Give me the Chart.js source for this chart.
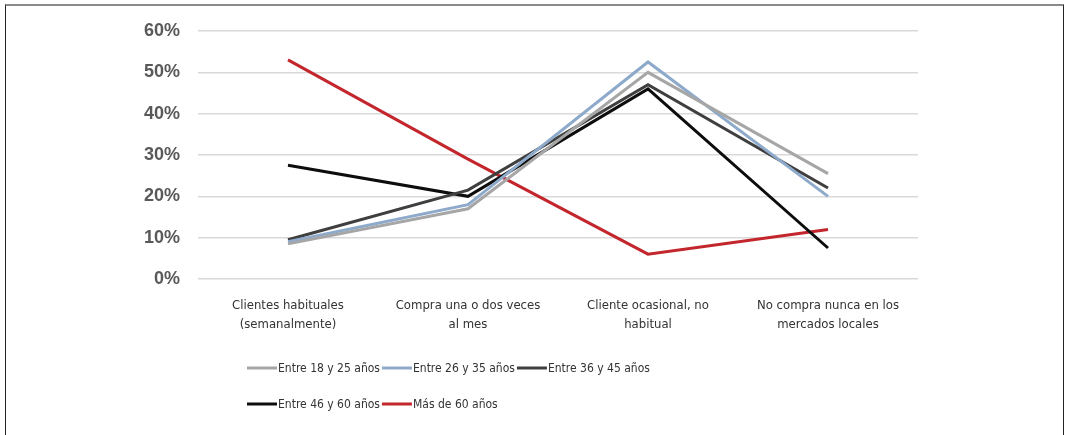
<!DOCTYPE html>
<html>
<head>
<meta charset="utf-8">
<script src="https://cdn.jsdelivr.net/npm/chart.js@4/dist/chart.umd.min.js"></script>
<style>
    html, body { margin: 0; padding: 0; background: #fff; }
    #wrap { position: relative; width: 1065px; height: 435px; }
    #frame {
        position: absolute; left: 5px; top: 4px; right: 1px; bottom: -2px;
        border-top: 2px solid #8a8a8a; border-left: 1px solid #222; border-right: 1px solid #222;
        pointer-events: none;
    }
    canvas { position: absolute; left: 0; top: 0; }
</style>
</head>
<body>
<div id="wrap">
    <canvas id="chart" width="1065" height="435"></canvas>
    <div id="frame"></div>
</div>
<script>
const categories = [
    ['Clientes habituales', '(semanalmente)'],
    ['Compra una o dos veces', 'al mes'],
    ['Cliente ocasional, no', 'habitual'],
    ['No compra nunca en los', 'mercados locales'],
];
const seriesNames = ['Entre 18 y 25 años', 'Entre 26 y 35 años', 'Entre 36 y 45 años', 'Entre 46 y 60 años', 'Más de 60 años'];
const age18to25 = [8.5, 17, 50, 25.5];
const age26to35 = [9, 18, 52.5, 20];
const age36to45 = [9.5, 21.5, 47, 22];
const age46to60 = [27.5, 20, 46, 7.5];
const over60 = [53, 29, 6, 12];
const yTicks = [0, 10, 20, 30, 40, 50, 60];

const seriesColors = ['#a6a6a6', '#8eaacb', '#3f3f3f', '#0d0d0d', '#c3262c'];
const narrowFont = '"Liberation Sans Narrow", "DejaVu Sans Condensed", "Noto Sans", sans-serif';

// legend drawn by hand: left-aligned rows, line sample touching the text
const legendPlugin = {
    id: 'rowLegend',
    afterDraw(chart) {
        const ctx = chart.ctx;
        const startX = 247;
        const perRow = 3;
        let x = startX;
        let y = 368;
        ctx.save();
        ctx.font = '12px ' + narrowFont;
        ctx.textBaseline = 'middle';
        chart.data.datasets.forEach((ds, i) => {
            if (i > 0 && i % perRow === 0) {
                x = startX;
                y += 36;
            }
            const w = 31 + ctx.measureText(ds.label).width;
            ctx.strokeStyle = ds.borderColor;
            ctx.lineWidth = 3;
            ctx.beginPath();
            ctx.moveTo(x, y);
            ctx.lineTo(x + 30, y);
            ctx.stroke();
            ctx.fillStyle = '#333';
            ctx.fillText(ds.label, x + 31, y + 1);
            x += w + 2;
        });
        ctx.restore();
    },
};

const seriesData = [age18to25, age26to35, age36to45, age46to60, over60];

new Chart(document.getElementById('chart'), {
    type: 'line',
    data: {
        labels: categories,
        datasets: seriesData.map((values, i) => ({
            label: seriesNames[i],
            data: values,
            borderColor: seriesColors[i],
            backgroundColor: seriesColors[i],
            borderWidth: 3,
            pointRadius: 0,
            tension: 0,
            fill: false,
        })),
    },
    options: {
        responsive: false,
        animation: false,
        devicePixelRatio: 1,
        layout: { padding: { left: 0, right: 147, top: 31, bottom: 96 } },
        plugins: {
            legend: { display: false },
            tooltip: { enabled: false },
        },
        scales: {
            x: {
                offset: true,
                grid: { display: false, drawTicks: false },
                border: { display: false },
                ticks: {
                    padding: 17,
                    maxRotation: 0,
                    autoSkip: false,
                    color: '#333',
                    font: { family: narrowFont, size: 13, lineHeight: 1.45 },
                },
                afterFit(scale) { scale.height = 60; },
            },
            y: {
                min: 0,
                max: 60,
                afterBuildTicks(scale) { scale.ticks = yTicks.map(v => ({ value: v })); },
                grid: { color: '#d9d9d9', lineWidth: 1.5, drawTicks: false },
                border: { display: false },
                ticks: {
                    padding: 18,
                    color: '#595959',
                    font: { family: '"Liberation Sans", Arial, sans-serif', size: 18, weight: 'bold' },
                    callback: v => v + '%',
                },
                afterFit(scale) { scale.width = 198; },
            },
        },
    },
    plugins: [legendPlugin],
});
</script>
</body>
</html>
